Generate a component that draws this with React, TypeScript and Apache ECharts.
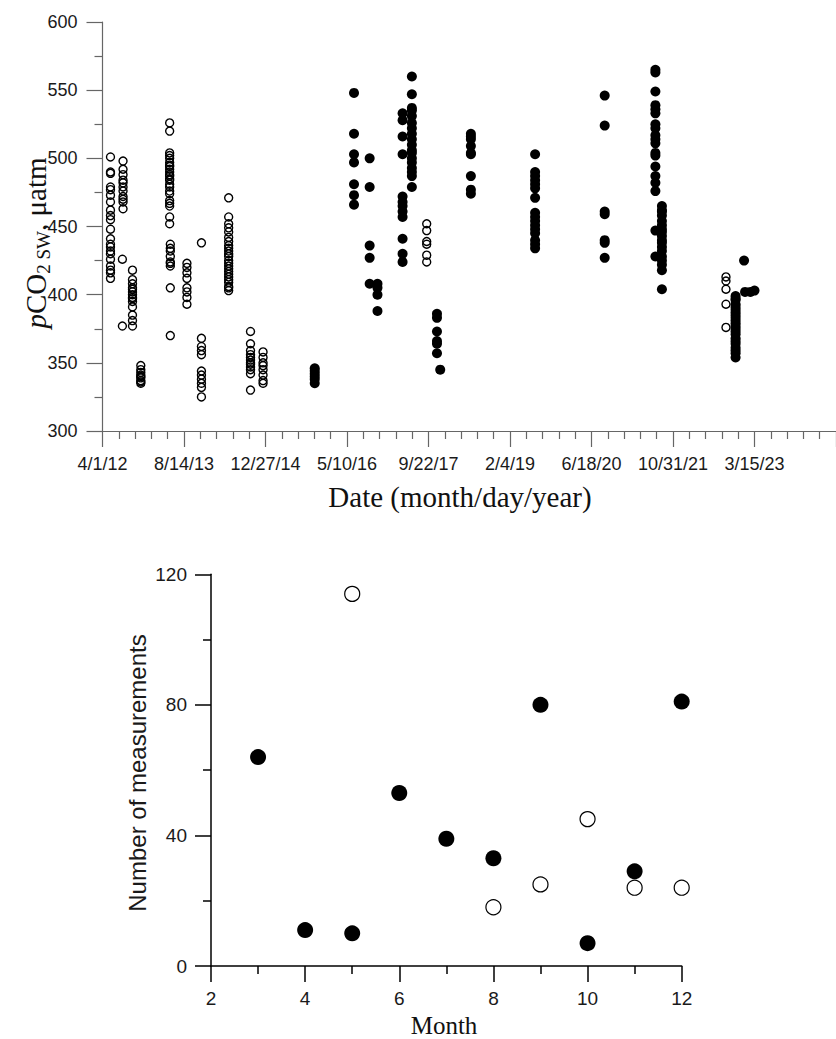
import React, { useEffect, useRef } from "react";
import * as echarts from "echarts";

// ---------- Top panel data (x = days since 4/1/12) ----------
const dateTickLabels = ["4/1/12", "8/14/13", "12/27/14", "5/10/16", "9/22/17", "2/4/19", "6/18/20", "10/31/21", "3/15/23"];

const openCruiseDays = [49, 122, 126, 184, 235, 412, 416, 518, 607, 774, 908, 985, 1989, 3825];
const openCruiseValues = [
  [501, 490, 489, 479, 477, 473, 468, 462, 458, 455, 448, 441, 437, 435, 432, 430, 426, 421, 418, 416, 412],
  [426, 377],
  [498, 492, 488, 484, 482, 479, 476, 472, 470, 468, 463],
  [418, 411, 408, 405, 404, 402, 400, 398, 397, 395, 391, 385, 381, 377],
  [348, 345, 343, 341, 340, 339, 337, 336, 335],
  [526, 520, 504, 502, 500, 497, 495, 494, 492, 490, 488, 487, 485, 484, 481, 479, 476, 474, 469, 467, 465, 457, 452],
  [437, 434, 432, 428, 424, 423, 421, 405, 370],
  [423, 420, 416, 412, 405, 402, 398, 393],
  [438, 368, 362, 359, 356, 344, 341, 338, 335, 332, 325],
  [471, 457, 452, 449, 446, 442, 439, 436, 434, 432, 430, 428, 425, 423, 421, 419, 417, 415, 413, 411, 409, 406, 405, 403],
  [373, 364, 359, 356, 354, 352, 350, 349, 347, 345, 342, 330],
  [358, 354, 350, 348, 345, 341, 337, 335],
  [452, 447, 439, 437, 429, 424],
  [413, 410, 404, 393, 376],
];

const filledCruiseDays = [1302, 1543, 1639, 1687, 1841, 1898, 2052, 2072, 2260, 2654, 3081, 3392, 3432, 3884, 3936, 3942, 3975, 4000];
const filledCruiseValues = [
  [346, 344, 342, 340, 338, 335],
  [548, 518, 503, 497, 481, 473, 466],
  [500, 479, 436, 427, 408],
  [408, 405, 400, 388],
  [533, 528, 516, 503, 472, 468, 465, 461, 457, 441, 430, 424],
  [560, 547, 537, 535, 531, 526, 522, 518, 514, 510, 506, 504, 500, 497, 493, 490, 487, 479],
  [386, 383, 373, 366, 364, 357],
  [345],
  [518, 516, 514, 509, 504, 503, 487, 477, 474],
  [503, 490, 487, 484, 481, 478, 471, 460, 457, 454, 451, 448, 445, 440, 437, 434],
  [546, 524, 461, 459, 440, 438, 427],
  [565, 563, 549, 539, 536, 533, 525, 522, 517, 514, 511, 504, 502, 494, 487, 482, 476, 447, 428],
  [465, 462, 461, 458, 454, 451, 448, 446, 443, 440, 438, 435, 432, 428, 425, 422, 418, 404],
  [399, 397, 396, 393, 391, 389, 387, 385, 383, 381, 379, 377, 375, 373, 371, 368, 366, 364, 361, 359, 357, 354],
  [425],
  [402],
  [402],
  [403],
];

// ---------- Bottom panel data ----------
const filledMonths = [3, 4, 5, 6, 7, 8, 9, 10, 11, 12];
const filledCounts = [64, 11, 10, 53, 39, 33, 80, 7, 29, 81];
const openMonths = [5, 8, 9, 10, 11, 12];
const openCounts = [114, 18, 25, 45, 24, 24];

const SANS = '"Liberation Sans", Arial, sans-serif';
const SERIF = '"Liberation Serif", "Times New Roman", serif';

function flatten(days: number[], vals: number[][]) {
  const out: number[][] = [];
  days.forEach((d, i) => vals[i].forEach((v) => out.push([d, v])));
  return out;
}

export default function App() {
  const ref = useRef<HTMLDivElement>(null);
  useEffect(() => {
    if (!ref.current) return;
    const chart = echarts.init(ref.current, null, { renderer: "svg" });
    const topAxisColor = "#666";
    const labelColor = "#1a1a1a";
    const option: any = {
      animation: false,
      backgroundColor: "#fff",
      grid: [
        { left: 102.5, top: 22, width: 780.3, height: 409 },
        { left: 211, top: 574.3, width: 470.7, height: 391.7 },
      ],
      xAxis: [
        {
          type: "value",
          gridIndex: 0,
          min: 0,
          max: 4500,
          interval: 500,
          axisLine: { show: true, onZero: false, lineStyle: { color: topAxisColor, width: 1.2 } },
          axisTick: { show: true, length: 16, lineStyle: { color: topAxisColor, width: 1.2 } },
          minorTick: { show: true, splitNumber: 5, length: 8, lineStyle: { color: topAxisColor, width: 1.2 } },
          splitLine: { show: false },
          axisLabel: {
            margin: 24,
            fontFamily: SANS,
            fontSize: 18,
            color: labelColor,
            showMaxLabel: false,
            formatter: (v: number) => dateTickLabels[Math.round(v / 500)] ?? "",
          },
        },
        {
          type: "value",
          gridIndex: 1,
          min: 2,
          max: 12,
          interval: 2,
          axisLine: { show: true, onZero: false, lineStyle: { color: "#000", width: 1.5 } },
          axisTick: { show: true, length: 16, lineStyle: { color: "#000", width: 1.5 } },
          minorTick: { show: true, splitNumber: 2, length: 8, lineStyle: { color: "#000", width: 1.5 } },
          splitLine: { show: false },
          axisLabel: { margin: 23, fontFamily: SANS, fontSize: 19, color: labelColor },
        },
      ],
      yAxis: [
        {
          type: "value",
          gridIndex: 0,
          min: 300,
          max: 600,
          interval: 50,
          axisLine: { show: true, onZero: false, lineStyle: { color: topAxisColor, width: 1.2 } },
          axisTick: { show: true, length: 16, lineStyle: { color: topAxisColor, width: 1.2 } },
          minorTick: { show: true, splitNumber: 2, length: 8, lineStyle: { color: topAxisColor, width: 1.2 } },
          splitLine: { show: false },
          axisLabel: { margin: 25, fontFamily: SANS, fontSize: 18, color: labelColor },
        },
        {
          type: "value",
          gridIndex: 1,
          min: 0,
          max: 120,
          interval: 40,
          axisLine: { show: true, onZero: false, lineStyle: { color: "#000", width: 1.5 } },
          axisTick: { show: true, length: 16, lineStyle: { color: "#000", width: 1.5 } },
          minorTick: { show: true, splitNumber: 2, length: 8, lineStyle: { color: "#000", width: 1.5 } },
          splitLine: { show: false },
          axisLabel: { margin: 24, fontFamily: SANS, fontSize: 19, color: labelColor },
        },
      ],
      series: [
        {
          type: "scatter",
          xAxisIndex: 0,
          yAxisIndex: 0,
          symbol: "circle",
          symbolSize: 8,
          itemStyle: { color: "rgba(0,0,0,0)", borderColor: "#000", borderWidth: 1.4, opacity: 1 },
          data: flatten(openCruiseDays, openCruiseValues),
        },
        {
          type: "scatter",
          xAxisIndex: 0,
          yAxisIndex: 0,
          symbol: "circle",
          symbolSize: 10,
          itemStyle: { color: "#000", opacity: 1 },
          data: flatten(filledCruiseDays, filledCruiseValues),
        },
        {
          type: "scatter",
          xAxisIndex: 1,
          yAxisIndex: 1,
          symbol: "circle",
          symbolSize: 16,
          itemStyle: { color: "#000", opacity: 1 },
          data: filledMonths.map((m, i) => [m, filledCounts[i]]),
        },
        {
          type: "scatter",
          xAxisIndex: 1,
          yAxisIndex: 1,
          symbol: "circle",
          symbolSize: 15,
          itemStyle: { color: "#fff", borderColor: "#000", borderWidth: 1.2, opacity: 1 },
          data: openMonths.map((m, i) => [m, openCounts[i]]),
        },
      ],
      graphic: [
        {
          type: "text",
          x: 36,
          y: 243,
          rotation: Math.PI / 2,
          style: {
            text: "{i|p}{n|CO}{s|2 SW}{n|, μatm}",
            align: "center",
            verticalAlign: "middle",
            fill: "#111",
            rich: {
              i: { fontFamily: SERIF, fontStyle: "italic", fontSize: 29, lineHeight: 34, verticalAlign: "middle", fill: "#111" },
              n: { fontFamily: SERIF, fontSize: 29, lineHeight: 34, verticalAlign: "middle", fill: "#111" },
              s: { fontFamily: SERIF, fontSize: 19, lineHeight: 18, verticalAlign: "bottom", fill: "#111" },
            },
          },
        },
        {
          type: "text",
          x: 460,
          y: 497,
          style: { text: "Date (month/day/year)", font: `29px ${SERIF}`, fill: "#111", align: "center", verticalAlign: "middle" },
        },
        {
          type: "text",
          x: 137,
          y: 773,
          rotation: Math.PI / 2,
          style: { text: "Number of measurements", font: `24px ${SANS}`, fill: "#1a1a1a", align: "center", verticalAlign: "middle" },
        },
        {
          type: "text",
          x: 444,
          y: 1025,
          style: { text: "Month", font: `25px ${SERIF}`, fill: "#111", align: "center", verticalAlign: "middle" },
        },
      ],
    };
    chart.setOption(option);
    return () => chart.dispose();
  }, []);
  return <div ref={ref} style={{ position: "absolute", left: 0, top: 0, width: 836, height: 1039 }} />;
}
